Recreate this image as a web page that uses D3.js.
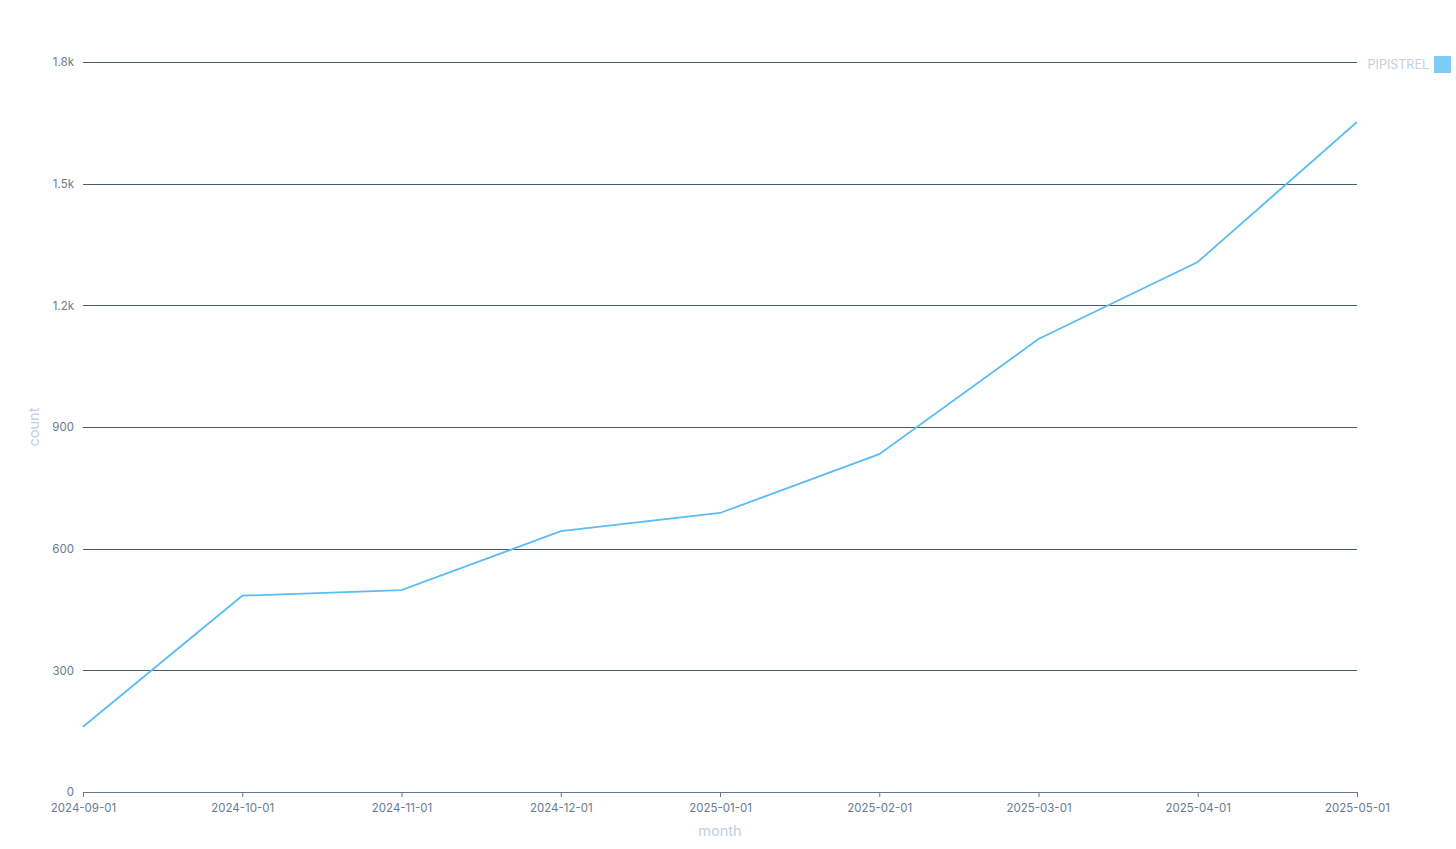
<!DOCTYPE html>
<html>
<head>
<meta charset="utf-8">
<script src="https://cdn.jsdelivr.net/npm/d3@7"></script>
<style>
  html, body { margin: 0; padding: 0; background: #fff; }
  svg { display: block; }
  svg text { font-family: Inter, "Noto Sans", sans-serif; }
</style>
</head>
<body>
<svg id="chart" width="1456" height="849"></svg>
<script>
const months = ["2024-09-01","2024-10-01","2024-11-01","2024-12-01","2025-01-01","2025-02-01","2025-03-01","2025-04-01","2025-05-01"];
const counts = [161, 484, 498, 643, 688, 833, 1117, 1307, 1652];
const yTicks = [0, 300, 600, 900, 1200, 1500, 1800];
const yTickLabels = ["0", "300", "600", "900", "1.2k", "1.5k", "1.8k"];
const seriesName = "PIPISTREL";

const W = 1456, H = 849;
const margin = {top: 62, right: 99, bottom: 57, left: 83};
const svg = d3.select("#chart");
const iw = W - margin.left - margin.right, ih = H - margin.top - margin.bottom;
const g = svg.append("g").attr("transform", `translate(${margin.left},${margin.top})`);

const x = d3.scalePoint().domain(months).range([0, iw]).padding(0);
const y = d3.scaleLinear().domain([0, 1800]).range([ih, 0]);

// gridlines
g.append("g").selectAll("line").data(yTicks.filter(d => d > 0)).join("line")
  .attr("x1", 0).attr("x2", iw)
  .attr("y1", d => Math.round(y(d)) + 0.5).attr("y2", d => Math.round(y(d)) + 0.5)
  .attr("stroke", "#4b5870").attr("stroke-width", 1);

// y axis labels
const yAxis = g.append("g").call(d3.axisLeft(y).tickValues(yTicks).tickFormat((d, i) => yTickLabels[i]).tickSize(0).tickPadding(9));
yAxis.attr("font-family", null);
yAxis.select(".domain").remove();
yAxis.selectAll("text").attr("fill", "#6b7a90").style("font-size", "11.5px");

// x axis
const xAxis = g.append("g").attr("transform", `translate(0,${ih})`)
  .call(d3.axisBottom(x).tickSize(5).tickSizeOuter(0).tickPadding(7));
xAxis.attr("font-family", null);
xAxis.select(".domain").attr("stroke", "#6b7789");
xAxis.selectAll(".tick line").attr("stroke", "#6b7789");
xAxis.selectAll("text").attr("fill", "#6b7a90").style("font-size", "11.5px");

// line
const line = d3.line().x((d, i) => x(months[i])).y(d => y(d));
g.append("path").datum(counts).attr("d", line)
  .attr("fill", "none").attr("stroke", "#5bbdf4").attr("stroke-width", 1.8);

// axis titles
svg.append("text").attr("x", margin.left + iw / 2).attr("y", 835.5)
  .attr("text-anchor", "middle").attr("fill", "#c3d0e0").style("font-size", "14.5px").text("month");
svg.append("text").attr("transform", `translate(38.5,${margin.top + ih / 2}) rotate(-90)`)
  .attr("text-anchor", "middle").attr("fill", "#c3d0e0").style("font-size", "14.5px").text("count");

// legend
svg.append("rect").attr("x", 1434).attr("y", 56).attr("width", 17).attr("height", 17)
  .attr("fill", "#7dcbf7");
svg.append("text").attr("x", 1429).attr("y", 68.5).attr("text-anchor", "end")
  .attr("fill", "#c3d0e0").style("font-size", "12.5px").text(seriesName);
</script>
</body>
</html>
